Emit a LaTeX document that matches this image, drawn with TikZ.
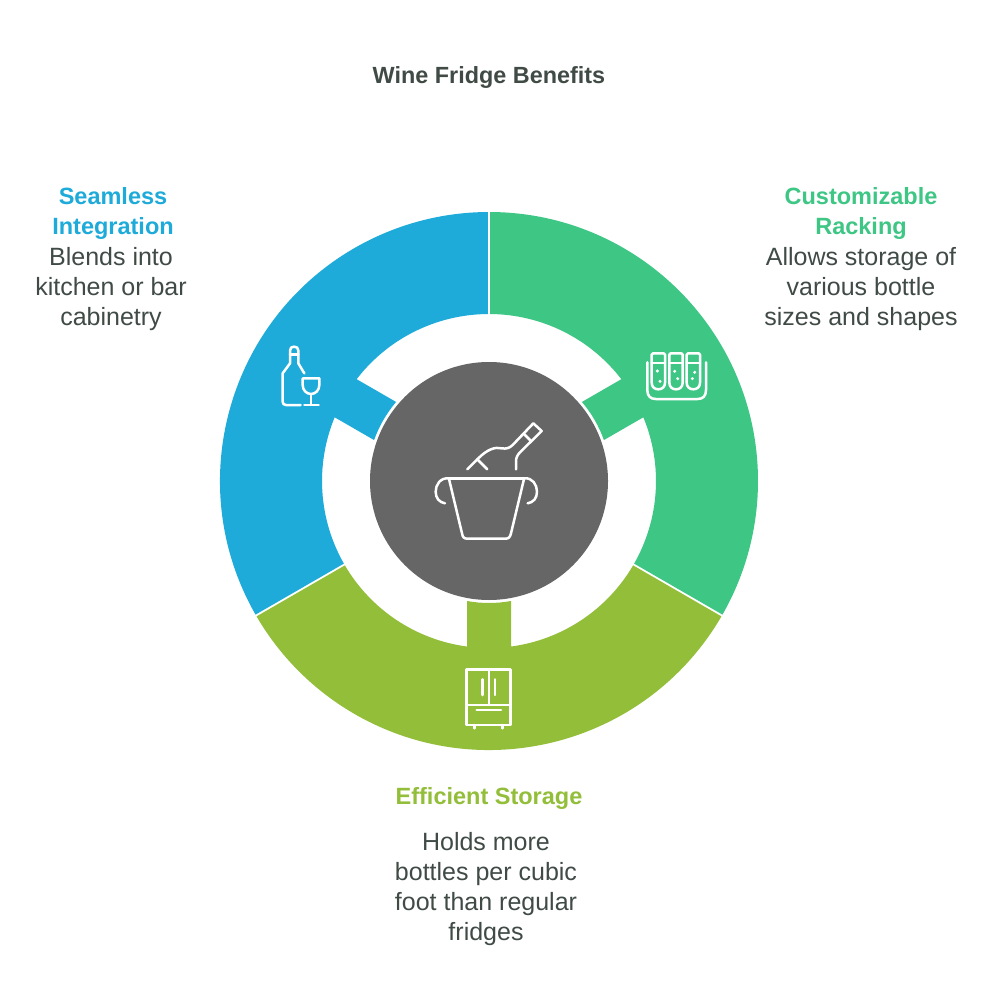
\documentclass[tikz,border=0pt]{standalone}
\usepackage{fontspec}
\setmainfont{Liberation Sans}
\definecolor{cblue}{HTML}{1EABDA}
\definecolor{cgreen}{HTML}{3EC685}
\definecolor{colive}{HTML}{93BE39}
\definecolor{cgrey}{HTML}{666666}
\definecolor{ctext}{HTML}{414B45}
\newcommand{\seg}[2]{% #1 mid angle, #2 colour
  \fill[#2] (#1+60-0.22:269) arc[start angle=#1+60-0.22,end angle=#1-60+0.22,radius=269]
   -- (#1-60+0.35:167) arc[start angle=#1-60+0.35,end angle=#1-7.57,radius=167]
   -- (#1-10.39:122) arc[start angle=#1-10.39,end angle=#1+10.39,radius=122]
   -- (#1+7.57:167) arc[start angle=#1+7.57,end angle=#1+60-0.35,radius=167] -- cycle;}
\tikzset{x=1pt,y=1pt,
  icon/.style={draw=white,line width=2.5pt,line cap=round,line join=round,fill=none},
  body/.style={text=ctext,align=center,inner sep=0pt,font=\fontsize{25}{30}\selectfont},
  head/.style={align=center,inner sep=0pt,font=\fontsize{23.5}{30}\selectfont\bfseries},
  zoomed/.style={x=0.33333pt,y=-0.33333pt}}
\begin{document}
\begin{tikzpicture}
\useasboundingbox (0,0) rectangle (1000,-1008);
\fill[white] (0,0) rectangle (1000,-1008);
\node[text=ctext,inner sep=0pt,font=\fontsize{23.4}{26}\selectfont\bfseries] (title) at (489,-78) {Wine Fridge Benefits};
\begin{scope}[shift={(489,-481)}]
  \seg{30}{cgreen}
  \seg{150}{cblue}
  \seg{270}{colive}
  \node[circle,fill=cgrey,minimum size=238pt,inner sep=0pt] (hub) at (0,0) {};
\end{scope}
% bucket
\begin{scope}[shift={(400,-400)},zoomed]
  \draw[icon] (145,235) -- (373,235);
  \draw[icon] (147,237) -- (186,400) .. controls (188,412) and (192,416) .. (202,416) -- (316,416) .. controls (326,416) and (330,412) .. (333,400) -- (372,237);
  \draw[icon] (148,235) .. controls (120,232) and (107,255) .. (107,275) .. controls (107,295) and (118,307) .. (135,310);
  \draw[icon] (372,235) .. controls (398,232) and (411,255) .. (411,275) .. controls (411,295) and (400,307) .. (383,310);
  \draw[icon] (202,208) -- (235,175) .. controls (262,148) and (285,140) .. (305,145) .. controls (318,147) and (328,145) .. (338,135) -- (400,70) -- (425,93) -- (362,155) .. controls (352,165) and (348,172) .. (348,185) -- (348,208);
  \draw[icon] (372,102) -- (392,122);
  \draw[icon] (232,178) -- (262,208);
\end{scope}
% wine
\begin{scope}[shift={(260,-330)},zoomed]
  \draw[icon] (122,225) -- (78,225) .. controls (71,225) and (68,221) .. (68,215) -- (68,130) -- (90,100) -- (90,62) .. controls (90,53) and (95,50) .. (102,50) .. controls (110,50) and (115,53) .. (115,62) -- (115,100) -- (133,130);
  \draw[icon] (90,73) -- (115,73);
  \draw[icon] (128,145) -- (178,145) -- (178,165) .. controls (178,180) and (167,192) .. (153,192) .. controls (139,192) and (128,180) .. (128,165) -- cycle;
  \draw[icon] (153,192) -- (153,225);
  \draw[icon] (133,225) -- (176,225);
\end{scope}
% tubes
\begin{scope}[shift={(570,-330)},zoomed]
  \draw[icon] (232,97) -- (232,180) .. controls (232,197) and (240,207) .. (257,207) -- (383,207) .. controls (400,207) and (408,197) .. (408,180) -- (408,97);
  \foreach \xa in {245,298,350}{
    \draw[icon] (\xa+4,70) -- (\xa+36,70) .. controls (\xa+39,70) and (\xa+40,71) .. (\xa+40,74) -- (\xa+40,158) .. controls (\xa+40,170) and (\xa+32,178) .. (\xa+20,178) .. controls (\xa+8,178) and (\xa,170) .. (\xa,158) -- (\xa,74) .. controls (\xa,71) and (\xa+1,70) .. (\xa+4,70) -- cycle;
    \draw[icon] (\xa,99) -- (\xa+40,99);
  }
  \fill[white] (262,123) circle[radius=5] (270,154) circle[radius=5] (314,124) circle[radius=5] (323,146) circle[radius=5] (374,127) circle[radius=5] (367,146) circle[radius=5];
\end{scope}
% fridge
\begin{scope}[shift={(440,-590)},zoomed]
  \draw[icon] (80,238) rectangle (212,405);
  \draw[icon] (147,238) -- (147,345);
  \draw[icon] (80,345) -- (212,345);
  \draw[icon] (127,268) -- (127,315);
  \draw[icon] (165,268) -- (165,315);
  \draw[icon] (110,360) -- (183,360);
  \draw[icon] (104,405) -- (104,415);
  \draw[icon] (187,405) -- (187,415);
\end{scope}
% text
\node[head,text=cblue] (h1) at (113,-213) {Seamless\\Integration};
\node[body] (b1) at (111,-289) {Blends into\\kitchen or bar\\cabinetry};
\node[head,text=cgreen] (h2) at (861,-213) {Customizable\\Racking};
\node[body] (b2) at (861,-289) {Allows storage of\\various bottle\\sizes and shapes};
\node[head,text=colive] (h3) at (489,-798) {Efficient Storage};
\node[body] (b3) at (486,-889) {Holds more\\bottles per cubic\\foot than regular\\fridges};
\end{tikzpicture}
\end{document}
